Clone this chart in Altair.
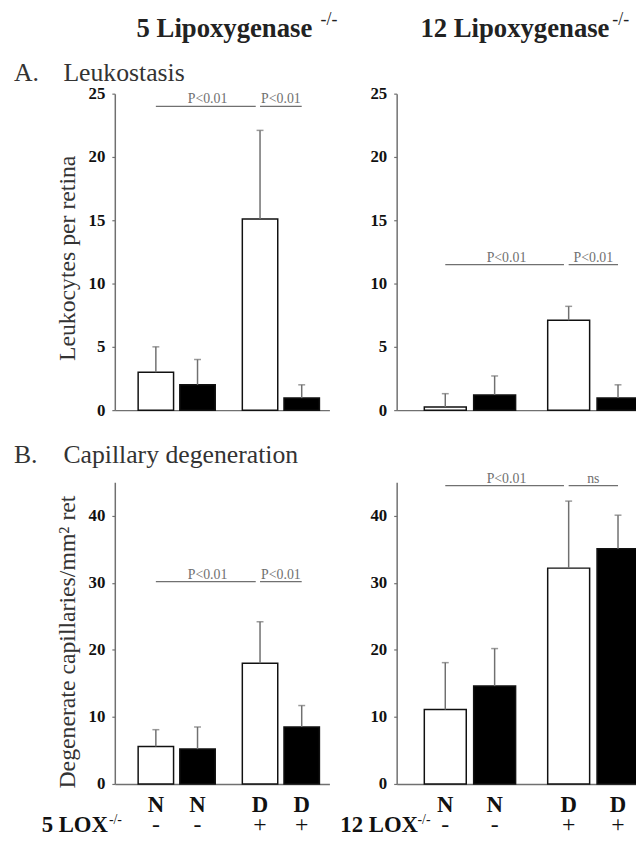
import altair as alt
import pandas as pd

FONT = "Liberation Serif"

# ---- data -------------------------------------------------------------
conditions = ["N", "N", "D", "D"]          # non-diabetic / diabetic
genotypes = ["WT", "KO", "WT", "KO"]       # white bars = wild type, black = knockout
knockout_signs = ["-", "-", "+", "+"]

leuko_5lox_mean = [3.0, 2.0, 15.1, 0.95]
leuko_5lox_sd = [2.0, 2.0, 7.0, 1.05]
leuko_12lox_mean = [0.25, 1.2, 7.1, 0.95]
leuko_12lox_sd = [1.05, 1.5, 1.1, 1.05]
cap_5lox_mean = [5.6, 5.2, 18.0, 8.5]
cap_5lox_sd = [2.5, 3.3, 6.2, 3.2]
cap_12lox_mean = [11.1, 14.6, 32.2, 35.1]
cap_12lox_sd = [7.0, 5.6, 10.0, 5.0]

leuko_ticks = [0, 5, 10, 15, 20, 25]
cap_ticks = [0, 10, 20, 30, 40]

sig_from = [("N", "WT"), ("D", "WT")]
sig_to = [("D", "WT"), ("D", "KO")]
sig_label_pos = ["N", "D"]
sig_leuko_5 = ["P<0.01", "P<0.01"]
sig_leuko_12 = ["P<0.01", "P<0.01"]
sig_cap_5 = ["P<0.01", "P<0.01"]
sig_cap_12 = ["P<0.01", "ns"]
sig_levels = [24.0, 11.5, 30.2, 44.5]

col_titles = ["5 Lipoxygenase", "12 Lipoxygenase"]
row_letters = ["A.", "B."]
row_titles = ["Leukostasis", "Capillary degeneration"]
y_titles = ["Leukocytes per retina", "Degenerate capillaries/mm\u00b2 ret"]
genotype_labels = ["5 LOX", "12 LOX"]
sup = "-/-"

GREY = "#707070"


def text_layer(txt, x, y, size, weight="normal", color="#111"):
    return alt.Chart(pd.DataFrame({"t": [txt]})).mark_text(
        font=FONT, fontSize=size, fontWeight=weight, color=color,
        align="left", baseline="alphabetic"
    ).encode(text="t:N", x=alt.value(x), y=alt.value(y))


def panel(mean, sd, ymax, ticks, sig_labels, sig_y, width, height,
          ytitle, ytitle_y, dash_len, texts, bottom):
    df = pd.DataFrame({
        "cond": conditions, "geno": genotypes, "mean": mean,
        "upper": [m + s for m, s in zip(mean, sd)], "sign": knockout_signs,
    })
    xscale = alt.Scale(domain=["N", "D"], paddingInner=0.26,
                       paddingOuter=0.16, align=0.7)
    xaxis = alt.Axis(title=None, labels=False, ticks=False,
                     domainColor=GREY, domainWidth=1.5)

    def xenc(band=None):
        if band is None:
            return alt.X("cond:N", scale=xscale, axis=xaxis)
        return alt.X("cond:N", scale=xscale, axis=xaxis, bandPosition=band)

    xo = alt.XOffset("geno:N", scale=alt.Scale(domain=["WT", "KO"],
                                               paddingInner=0.15,
                                               paddingOuter=0))
    yaxis = alt.Axis(
        values=ticks, title=ytitle, grid=False,
        labelFont=FONT, labelFontSize=17, labelFontWeight="bold",
        labelColor="#111", labelPadding=7,
        tickSize=3, tickColor=GREY, tickWidth=1.2,
        domainColor=GREY, domainWidth=1.5,
        titleFont=FONT, titleFontSize=24, titleFontWeight="normal",
        titleColor="#333", titleAngle=270, titleX=-41, titleY=ytitle_y,
        titleAlign="center", titleBaseline="alphabetic",
    )
    yscale = alt.Scale(domain=[0, ymax], nice=False, zero=True)

    def yenc(field):
        return alt.Y(field, scale=yscale, axis=yaxis)

    base = alt.Chart(df)
    bars = base.mark_bar(stroke="#111", strokeWidth=1.5).encode(
        x=xenc(), xOffset=xo, y=yenc("mean:Q"),
        fill=alt.Fill("geno:N", scale=alt.Scale(domain=["WT", "KO"],
                                                range=["#ffffff", "#000000"]),
                      legend=None),
    )
    err = base.mark_rule(color=GREY, strokeWidth=1.5).encode(
        x=xenc(), xOffset=xo, y=yenc("mean:Q"), y2="upper:Q")
    cap = base.mark_tick(color=GREY, thickness=1.5, size=7,
                         orient="horizontal").encode(
        x=xenc(), xOffset=xo, y=yenc("upper:Q"))

    layers = [bars, err, cap]

    for i, (f, t) in enumerate(zip(sig_from, sig_to)):
        sdf = pd.DataFrame({
            "step": [0, 1], "cond": [f[0], t[0]], "geno": [f[1], t[1]],
            "level": [sig_y, sig_y]})
        kw = {"strokeDash": [dash_len, 2000]} if i == 0 else {}
        layers.append(alt.Chart(sdf).mark_line(
            color=GREY, strokeWidth=1.3, **kw).encode(
            x=xenc(), xOffset=xo, y=yenc("level:Q"), order="step:Q"))
        ldf = pd.DataFrame({"cond": [sig_label_pos[i]], "level": [sig_y],
                            "label": [sig_labels[i]]})
        layers.append(alt.Chart(ldf).mark_text(
            font=FONT, fontSize=14, color=GREY, dy=-3,
            baseline="alphabetic").encode(
            x=xenc(0.9 if i == 0 else 0.5), y=yenc("level:Q"),
            text="label:N"))

    if bottom:
        layers.append(base.mark_text(
            font=FONT, fontSize=23, fontWeight="bold", color="#111",
            baseline="alphabetic").encode(
            x=xenc(), xOffset=xo, y=alt.value(height + 28), text="cond:N"))
        layers.append(base.mark_text(
            font=FONT, fontSize=24, color="#111",
            baseline="alphabetic").encode(
            x=xenc(), xOffset=xo, y=alt.value(height + 49), text="sign:N"))

    for tx in texts:
        layers.append(text_layer(*tx))

    return alt.layer(*layers).properties(width=width, height=height)


A5 = panel(leuko_5lox_mean, leuko_5lox_sd, 25, leuko_ticks, sig_leuko_5,
           sig_levels[0], 217, 320, y_titles[0], 166, 101,
           [(col_titles[0], 22, -57, 27, "bold", "#222"),
            (sup, 208, -69, 18, "normal", "#222"),
            (row_letters[0], -102, -13, 26, "normal", "#333"),
            (row_titles[0], -52, -13, 26, "normal", "#333")], False)
A12 = panel(leuko_12lox_mean, leuko_12lox_sd, 25, leuko_ticks, sig_leuko_12,
            sig_levels[1], 257, 320, None, 166, 120,
            [(col_titles[1], 24, -57, 27, "bold", "#222"),
             (sup, 218, -69, 18, "normal", "#222")], False)
B5 = panel(cap_5lox_mean, cap_5lox_sd, 45, cap_ticks, sig_cap_5,
           sig_levels[2], 217, 305, y_titles[1], 161, 101,
           [(row_letters[1], -102, -20, 26, "normal", "#333"),
            (row_titles[1], -52, -20, 26, "normal", "#333"),
            (genotype_labels[0], -74, 354, 23, "bold", "#111"),
            (sup, -6, 345, 14, "normal", "#111")], True)
B12 = panel(cap_12lox_mean, cap_12lox_sd, 45, cap_ticks, sig_cap_12,
            sig_levels[3], 257, 305, None, 161, 120,
            [(genotype_labels[1], -57, 354, 23, "bold", "#111"),
             (sup, 21, 345, 14, "normal", "#111")], True)

chart = alt.concat(
    A5, A12, B5, B12, columns=2, bounds="flush", align="each",
    spacing={"row": 73, "column": 68},
).resolve_scale(
    xOffset="independent", fill="independent",
).properties(
    padding={"left": 6, "top": -1, "right": -15, "bottom": -5},
    background="white",
).configure_view(stroke=None)

chart.save("out.html", embed_options={"renderer": "svg", "actions": False})
